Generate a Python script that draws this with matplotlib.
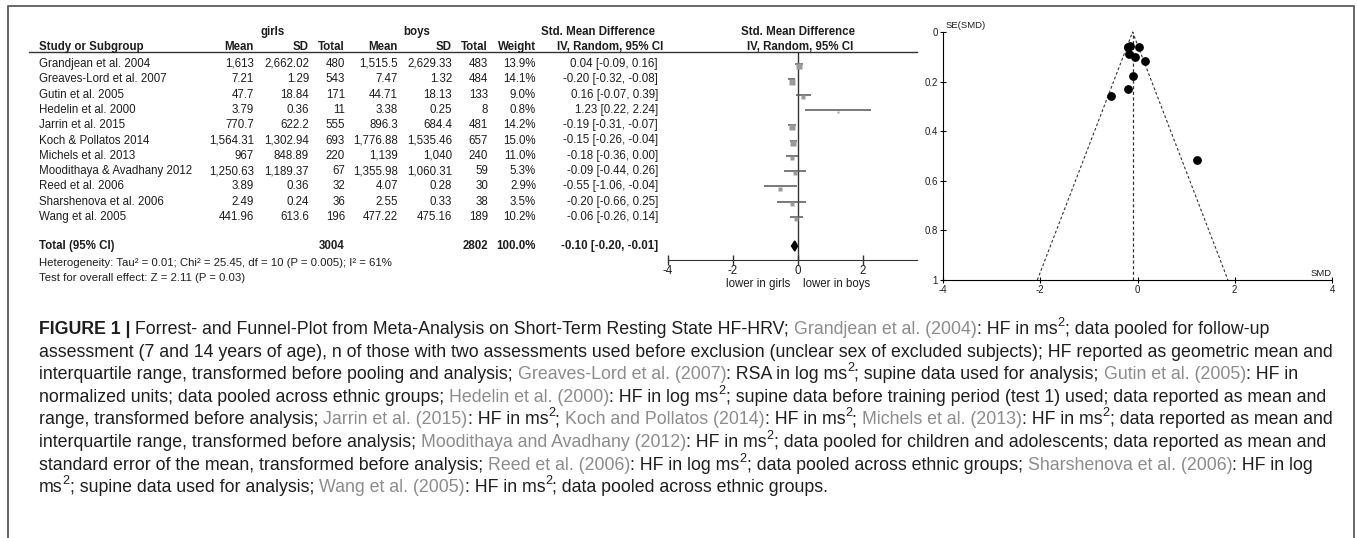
import matplotlib
matplotlib.use('Agg')
import matplotlib.pyplot as plt
from matplotlib.font_manager import FontProperties
from matplotlib.ticker import FuncFormatter
import numpy as np

plt.rcParams['font.family'] = ['Liberation Sans', 'DejaVu Sans']
plt.rcParams['axes.unicode_minus'] = False

W, H = 1357, 538

studies = ['Grandjean et al. 2004', 'Greaves-Lord et al. 2007', 'Gutin et al. 2005',
           'Hedelin et al. 2000', 'Jarrin et al. 2015', 'Koch & Pollatos 2014',
           'Michels et al. 2013', 'Moodithaya & Avadhany 2012', 'Reed et al. 2006',
           'Sharshenova et al. 2006', 'Wang et al. 2005']
girls_mean = ['1,613', '7.21', '47.7', '3.79', '770.7', '1,564.31', '967', '1,250.63', '3.89', '2.49', '441.96']
girls_sd = ['2,662.02', '1.29', '18.84', '0.36', '622.2', '1,302.94', '848.89', '1,189.37', '0.36', '0.24', '613.6']
girls_n = [480, 543, 171, 11, 555, 693, 220, 67, 32, 36, 196]
boys_mean = ['1,515.5', '7.47', '44.71', '3.38', '896.3', '1,776.88', '1,139', '1,355.98', '4.07', '2.55', '477.22']
boys_sd = ['2,629.33', '1.32', '18.13', '0.25', '684.4', '1,535.46', '1,040', '1,060.31', '0.28', '0.33', '475.16']
boys_n = [483, 484, 133, 8, 481, 657, 240, 59, 30, 38, 189]
weight = [13.9, 14.1, 9.0, 0.8, 14.2, 15.0, 11.0, 5.3, 2.9, 3.5, 10.2]
smd = [0.04, -0.20, 0.16, 1.23, -0.19, -0.15, -0.18, -0.09, -0.55, -0.20, -0.06]
ci_lo = [-0.09, -0.32, -0.07, 0.22, -0.31, -0.26, -0.36, -0.44, -1.06, -0.66, -0.26]
ci_hi = [0.16, -0.08, 0.39, 2.24, -0.07, -0.04, 0.00, 0.26, -0.04, 0.25, 0.14]
# SE(SMD)
se = [0.06, 0.06, 0.115, 0.515, 0.06, 0.055, 0.09, 0.178, 0.26, 0.23, 0.10]
total_girls, total_boys = 3004, 2802
total_smd, total_lo, total_hi = -0.10, -0.20, -0.01
heterogeneity = 'Heterogeneity: Tau\u00b2 = 0.01; Chi\u00b2 = 25.45, df = 10 (P = 0.005); I\u00b2 = 61%'
overall = 'Test for overall effect: Z = 2.11 (P = 0.03)'

# caption runs: n = normal, b = bold, g = grey citation, s = superscript
caption = [
    [('FIGURE 1 |', 'b'), (' Forrest- and Funnel-Plot from Meta-Analysis on Short-Term Resting State HF-HRV; ', 'n'),
     ('Grandjean et al. (2004)', 'g'), (': HF in ms', 'n'), ('2', 's'), ('; data pooled for follow-up', 'n')],
    [('assessment (7 and 14 years of age), n of those with two assessments used before exclusion (unclear sex of excluded subjects); HF reported as geometric mean and', 'n')],
    [('interquartile range, transformed before pooling and analysis; ', 'n'), ('Greaves-Lord et al. (2007)', 'g'),
     (': RSA in log ms', 'n'), ('2', 's'), ('; supine data used for analysis; ', 'n'), ('Gutin et al. (2005)', 'g'),
     (': HF in', 'n')],
    [('normalized units; data pooled across ethnic groups; ', 'n'), ('Hedelin et al. (2000)', 'g'),
     (': HF in log ms', 'n'), ('2', 's'), ('; supine data before training period (test 1) used; data reported as mean and', 'n')],
    [('range, transformed before analysis; ', 'n'), ('Jarrin et al. (2015)', 'g'), (': HF in ms', 'n'), ('2', 's'),
     ('; ', 'n'), ('Koch and Pollatos (2014)', 'g'), (': HF in ms', 'n'), ('2', 's'), ('; ', 'n'),
     ('Michels et al. (2013)', 'g'), (': HF in ms', 'n'), ('2', 's'), ('; data reported as mean and', 'n')],
    [('interquartile range, transformed before analysis; ', 'n'), ('Moodithaya and Avadhany (2012)', 'g'),
     (': HF in ms', 'n'), ('2', 's'), ('; data pooled for children and adolescents; data reported as mean and', 'n')],
    [('standard error of the mean, transformed before analysis; ', 'n'), ('Reed et al. (2006)', 'g'),
     (': HF in log ms', 'n'), ('2', 's'), ('; data pooled across ethnic groups; ', 'n'),
     ('Sharshenova et al. (2006)', 'g'), (': HF in log', 'n')],
    [('ms', 'n'), ('2', 's'), ('; supine data used for analysis; ', 'n'), ('Wang et al. (2005)', 'g'),
     (': HF in ms', 'n'), ('2', 's'), ('; data pooled across ethnic groups.', 'n')],
]

TXT = '#1e1e1e'
GREY = '#8c8c8c'
fs = 8.3


def box(x0, y0, x1, y1):
    return [x0 / W, 1 - y1 / H, (x1 - x0) / W, (y1 - y0) / H]


fig = plt.figure(figsize=(W / 100, H / 100), dpi=100)
bg = fig.add_axes([0, 0, 1, 1])
bg.set_xlim(0, W)
bg.set_ylim(H, 0)
bg.axis('off')

# outer frame
bg.plot([8, 8, 1354, 1354], [H, 6, 6, H], color='#666666', lw=1.4, clip_on=False)

# ---- table ----
hdr = dict(fontsize=fs, fontweight='bold', color=TXT, va='center')
bg.text(273, 32, 'girls', ha='center', **hdr)
bg.text(417, 32, 'boys', ha='center', **hdr)
bg.text(598, 32, 'Std. Mean Difference', ha='center', **hdr)
bg.text(798, 32, 'Std. Mean Difference', ha='center', **hdr)
bg.text(39, 47, 'Study or Subgroup', ha='left', **hdr)
for lab, x in [('Mean', 254), ('SD', 309), ('Total', 345), ('Mean', 398), ('SD', 452), ('Total', 488), ('Weight', 536)]:
    bg.text(x, 47, lab, ha='right', **hdr)
bg.text(610, 47, 'IV, Random, 95% CI', ha='center', **hdr)
bg.text(800, 47, 'IV, Random, 95% CI', ha='center', **hdr)
bg.plot([29, 917], [52, 52], color='#333333', lw=1.0)

row_y = 64 + 15.3 * np.arange(len(studies))
total_y = 246
cell = dict(fontsize=fs, color=TXT, va='center')
columns = [(girls_mean, 254), (girls_sd, 309), (girls_n, 345), (boys_mean, 398), (boys_sd, 452), (boys_n, 488),
           ([f'{w:.1f}%' for w in weight], 536),
           ([f'{m:.2f} [{l:.2f}, {h:.2f}]' for m, l, h in zip(smd, ci_lo, ci_hi)], 658)]
for i, y in enumerate(row_y):
    bg.text(39, y, studies[i], ha='left', **cell)
    for vals, x in columns:
        bg.text(x, y, str(vals[i]), ha='right', **cell)

bg.text(39, total_y, 'Total (95% CI)', ha='left', **hdr)
bg.text(345, total_y, str(total_girls), ha='right', **hdr)
bg.text(488, total_y, str(total_boys), ha='right', **hdr)
bg.text(536, total_y, '100.0%', ha='right', **hdr)
bg.text(658, total_y, f'{total_smd:.2f} [{total_lo:.2f}, {total_hi:.2f}]', ha='right', **hdr)
bg.text(39, 263, heterogeneity, ha='left', fontsize=8.2, color=TXT, va='center')
bg.text(39, 278, overall, ha='left', fontsize=8.2, color=TXT, va='center')

# ---- forest plot ----
fa = fig.add_axes(box(668, 52, 928, 260))
fa.set_xlim(-4, 4)
rows = np.arange(len(studies))
fa.set_ylim((260 - 64) / 15.3, (52 - 64) / 15.3)
fa.patch.set_visible(False)
for s in ['top', 'right', 'left']:
    fa.spines[s].set_visible(False)
fa.spines['bottom'].set_bounds(-4, 3.66)
fa.spines['bottom'].set_color('#333333')
fa.set_yticks([])
fa.set_xticks([-4, -2, 0, 2])
fa.tick_params(axis='x', direction='inout', length=7, width=1, color='#333333',
               labelsize=fs, labelcolor=TXT, pad=0)
fa.axvline(0, color='#333333', lw=1.0)
fa.hlines(rows, ci_lo, ci_hi, color='#555555', lw=1.1)
for i in rows:
    fa.plot(smd[i], i + 0.15, marker='s', ms=1.6 + 0.6 * np.sqrt(weight[i]), color='#9a9a9a', mec='none')
ty = (total_y - 64) / 15.3
fa.fill([total_lo, total_smd, total_hi, total_smd], [ty, ty - 0.33, ty, ty + 0.33], color='black')
bg.text(758, 284, 'lower in girls', ha='center', va='center', fontsize=fs, color=TXT)
bg.text(837, 284, 'lower in boys', ha='center', va='center', fontsize=fs, color=TXT)

# ---- funnel plot ----
fp = fig.add_axes(box(943, 32, 1332, 280))
fp.set_xlim(-4, 4)
fp.set_ylim(1, 0)
fp.patch.set_visible(False)
for s in ['top', 'right']:
    fp.spines[s].set_visible(False)
fp.set_xticks([-4, -2, 0, 2, 4])
fp.set_yticks([0, 0.2, 0.4, 0.6, 0.8, 1])
fp.yaxis.set_major_formatter(FuncFormatter(lambda v, p: f'{v:g}'))
fp.tick_params(direction='inout', length=5, width=0.8, labelsize=6.9, pad=1, labelcolor=TXT)
fp.plot([total_smd - 1.96, total_smd, total_smd + 1.96], [1, 0, 1], color='#333333', lw=0.8,
        ls=(0, (2.5, 2)), clip_on=False)
fp.axvline(total_smd, color='#333333', lw=0.9, ls=(0, (2.5, 2)))
fp.scatter(smd, se, s=28, color='black', zorder=3, clip_on=False)
bg.text(946, 25, 'SE(SMD)', ha='left', va='center', fontsize=6.8, color=TXT)
bg.text(1332, 274, 'SMD', ha='right', va='center', fontsize=6.8, color=TXT)

# ---- caption ----
renderer = fig.canvas.get_renderer()


def text_w(s, prop):
    w1 = renderer.get_text_width_height_descent('|' + s + '|', prop, ismath=False)[0]
    w0 = renderer.get_text_width_height_descent('||', prop, ismath=False)[0]
    return w1 - w0


# size the caption so the second line fills the box as in the reference
w10 = text_w(caption[1][0][0], FontProperties(family='Liberation Sans', size=10))
cap_fs = 10 * (1333 - 39) / w10

for k, line in enumerate(caption):
    x = 39
    base = 334 + 22.6 * k
    for txt, style in line:
        size = cap_fs * 0.72 if style == 's' else cap_fs
        weight_ = 'bold' if style == 'b' else 'normal'
        prop = FontProperties(family='Liberation Sans', size=size, weight=weight_)
        y = base - 0.45 * cap_fs * 100 / 72 if style == 's' else base
        bg.text(x, y, txt, fontproperties=prop, color=GREY if style == 'g' else TXT,
                ha='left', va='baseline')
        x += text_w(txt, prop)

fig.savefig('out.png', dpi=100)
